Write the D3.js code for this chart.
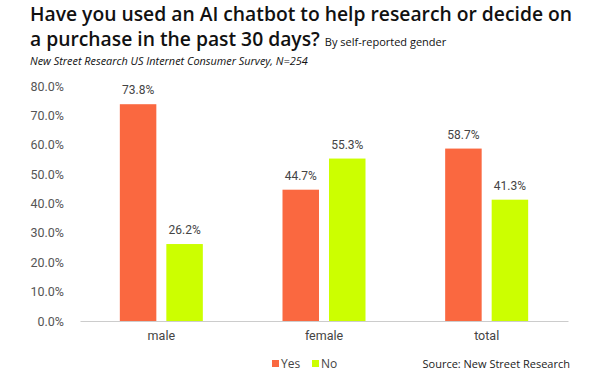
<!DOCTYPE html>
<html>
<head>
<meta charset="utf-8">
<script src="https://cdn.jsdelivr.net/npm/d3@7"></script>
<style>
  body { margin: 0; background: #fff; }
  svg { display: block; }
</style>
</head>
<body>
<svg id="chart" width="600" height="375"></svg>
<script>
    'use strict';

    const categories = ['male', 'female', 'total'];
    const seriesNames = ['Yes', 'No'];
    const yesValues = [73.8, 44.7, 58.7];
    const noValues = [26.2, 55.3, 41.3];
    const yTicks = [0, 10, 20, 30, 40, 50, 60, 70, 80];

    const colors = { Yes: '#FA6840', No: '#CCFF00' };

    var svg = d3.select('#chart');

    var leftMargin = 80, rightEdge = 568;
    var topY = 86, bottomY = 321;

    var scaleX = d3.scaleBand()
        .domain(categories)
        .range([leftMargin, rightEdge])
        .paddingInner(0)
        .paddingOuter(0);

    var scaleY = d3.scaleLinear()
        .domain([0, 80])
        .range([bottomY, topY]);

    var barWidth = 36.5;
    var barGap = 10;

    // title
    var title = svg.append('g').attr('font-family', 'Open Sans').attr('fill', '#111');
    title.append('text')
        .attr('x', 30).attr('y', 21)
        .attr('font-size', 19.3).attr('font-weight', 600)
        .text('Have you used an AI chatbot to help research or decide on');
    var line2 = title.append('text')
        .attr('x', 30).attr('y', 46)
        .attr('font-size', 19.3).attr('font-weight', 600);
    line2.append('tspan').text('a purchase in the past 30 days? ');
    line2.append('tspan').attr('font-size', 11).attr('font-weight', 400).text('By self-reported gender');
    title.append('text')
        .attr('x', 30).attr('y', 64.5)
        .attr('font-size', 10.9).attr('font-style', 'italic')
        .text('New Street Research US Internet Consumer Survey, N=254');

    // y axis
    var yAxis = d3.axisLeft(scaleY)
        .tickValues(yTicks)
        .tickSize(0)
        .tickPadding(0)
        .tickFormat(function (v) { return d3.format('.1f')(v) + '%'; });

    svg.append('g')
        .attr('transform', 'translate(64,0)')
        .call(yAxis)
        .call(function (g) {
            g.select('.domain').remove();
            g.selectAll('.tick text')
                .attr('font-family', 'Roboto')
                .attr('font-size', 12.5)
                .attr('fill', '#555');
        });

    // baseline + x labels
    var xAxis = d3.axisBottom(scaleX).tickSize(0).tickPadding(10);
    svg.append('g')
        .attr('transform', 'translate(0,' + bottomY + ')')
        .call(xAxis)
        .call(function (g) {
            g.select('.domain').attr('stroke', '#ccc').attr('stroke-width', 1);
            g.selectAll('.tick text')
                .attr('font-family', 'Roboto')
                .attr('font-size', 12.5)
                .attr('fill', '#444');
        });

    // bars
    var rows = categories.map(function (c, i) {
        return { cat: c, Yes: yesValues[i], No: noValues[i] };
    });

    var groups = svg.append('g').selectAll('g')
        .data(rows)
        .enter().append('g')
        .attr('transform', function (d) {
            return 'translate(' + (scaleX(d.cat) + scaleX.bandwidth() / 2) + ',0)';
        });

    seriesNames.forEach(function (s, si) {
        var xOff = si === 0 ? -(barGap / 2 + barWidth) : barGap / 2;
        groups.append('rect')
            .attr('x', xOff)
            .attr('width', barWidth)
            .attr('y', function (d) { return scaleY(d[s]); })
            .attr('height', function (d) { return bottomY - scaleY(d[s]); })
            .attr('fill', colors[s]);

        groups.append('text')
            .attr('x', xOff + barWidth / 2)
            .attr('y', function (d) { return scaleY(d[s]) - 10; })
            .attr('text-anchor', 'middle')
            .attr('font-family', 'Roboto')
            .attr('font-size', 12)
            .attr('fill', '#444')
            .text(function (d) { return d3.format('.1f')(d[s]) + '%'; });
    });

    // legend
    var legend = svg.append('g').attr('font-family', 'Open Sans').attr('font-size', 12).attr('fill', '#444');
    var legendX = [272, 312];
    seriesNames.forEach(function (s, i) {
        legend.append('rect')
            .attr('x', legendX[i]).attr('y', 360)
            .attr('width', 7).attr('height', 7)
            .attr('fill', colors[s]);
        legend.append('text')
            .attr('x', legendX[i] + 9).attr('y', 367.5)
            .text(s);
    });

    svg.append('text')
        .attr('x', 570).attr('y', 367.5)
        .attr('text-anchor', 'end')
        .attr('font-family', 'Open Sans')
        .attr('font-size', 11)
        .attr('fill', '#222')
        .text('Source: New Street Research');
</script>
</body>
</html>
